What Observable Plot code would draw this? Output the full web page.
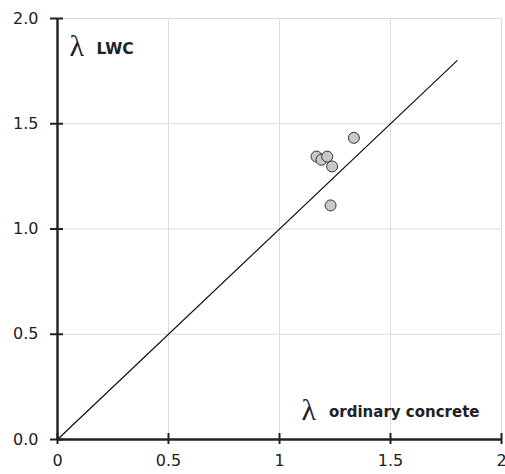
<!DOCTYPE html>
<html>
<head>
<meta charset="utf-8">
<script src="https://cdn.jsdelivr.net/npm/d3@7"></script>
<script src="https://cdn.jsdelivr.net/npm/@observablehq/plot@0.6"></script>
<style>
  html, body { margin: 0; padding: 0; background: #fff; overflow: hidden; }
  svg { display: block; }
</style>
</head>
<body>
<div id="chart"></div>
<script>
const lambdaOrdinary = [1.335, 1.167, 1.189, 1.215, 1.237, 1.230];
const lambdaLWC      = [1.433, 1.344, 1.329, 1.344, 1.297, 1.112];
const xTicks = [0, 0.5, 1, 1.5, 2];
const yTicks = [0, 0.5, 1.0, 1.5, 2.0];
const xTickLabels = ["0", "0.5", "1", "1.5", "2"];
const yTickLabels = ["0.0", "0.5", "1.0", "1.5", "2.0"];
const gridTicks = [0.5, 1, 1.5, 2];
const lineX = [0, 1.8];
const lineY = [0, 1.8];

const points = lambdaOrdinary.map((x, i) => ({x, y: lambdaLWC[i]}));
const diag = lineX.map((x, i) => ({x, y: lineY[i]}));
const xLab = xTicks.map((v, i) => ({v, t: xTickLabels[i]}));
const yLab = yTicks.map((v, i) => ({v, t: yTickLabels[i]}));

const font = "DejaVu Sans, sans-serif";
const ink = "#222";

const chart = Plot.plot({
  width: 505,
  height: 474,
  marginLeft: 57,
  marginRight: 4,
  marginTop: 18,
  marginBottom: 35,
  style: {fontFamily: font, background: "#fff", overflow: "hidden"},
  x: {domain: [0, 2], axis: null},
  y: {domain: [0, 2], axis: null},
  marks: [
    Plot.gridX(gridTicks, {stroke: "#dcdcdc", strokeOpacity: 1}),
    Plot.gridY(gridTicks, {stroke: "#dcdcdc", strokeOpacity: 1}),
    Plot.text(xLab, {x: "v", y: () => 0, text: "t", dy: 21, fontSize: 16, fill: ink, lineAnchor: "middle"}),
    Plot.text(yLab, {y: "v", x: () => 0, text: "t", dx: -19, fontSize: 16, fill: ink, textAnchor: "end", lineAnchor: "middle"}),
    Plot.line(diag, {x: "x", y: "y", stroke: "#111", strokeWidth: 1.2}),
    Plot.ruleY([0], {stroke: ink, strokeWidth: 2.4}),
    Plot.ruleX([0], {stroke: ink, strokeWidth: 2.4}),
    Plot.ruleX(xTicks, {x: d => d, y1: 0, y2: 0, insetTop: -6, insetBottom: -5, stroke: ink, strokeWidth: 2}),
    Plot.ruleY(yTicks, {y: d => d, x1: 0, x2: 0, insetLeft: -7, insetRight: -6, stroke: ink, strokeWidth: 2}),
    Plot.dot(points, {x: "x", y: "y", r: 5.5, fill: "#c8c8c8", stroke: "#333", strokeWidth: 1}),
    Plot.text(["λ"], {frameAnchor: "top-left", dx: 12, dy: 16, fontSize: 30, fontFamily: "Liberation Serif, serif", fill: ink, textAnchor: "start"}),
    Plot.text(["LWC"], {frameAnchor: "top-left", dx: 39, dy: 24, fontSize: 15.5, fontWeight: "bold", fill: ink, textAnchor: "start"}),
    Plot.text(["λ"], {frameAnchor: "bottom-right", dx: -200, dy: -20, fontSize: 30, fontFamily: "Liberation Serif, serif", fill: ink, textAnchor: "start", lineAnchor: "bottom"}),
    Plot.text(["ordinary concrete"], {frameAnchor: "bottom-right", dx: -22, dy: -23, fontSize: 15, fontWeight: "bold", fill: ink, textAnchor: "end", lineAnchor: "bottom"})
  ]
});
document.getElementById("chart").appendChild(chart);
</script>
</body>
</html>
